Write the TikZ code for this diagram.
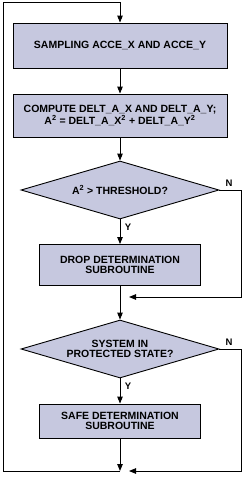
\documentclass[tikz,border=0pt]{standalone}
\usepackage{fontspec}
\setmainfont{Liberation Sans}
\usetikzlibrary{shapes.geometric,arrows.meta}
\definecolor{boxfill}{RGB}{198,200,223}
\begin{document}
\begin{tikzpicture}[x=1pt,y=-1pt,
  every node/.style={font=\fontsize{10.5}{10.6}\selectfont\bfseries},
  procbox/.style={draw=black,line width=0.9pt,fill=boxfill,align=center,inner sep=0pt},
  decision/.style={diamond,draw=black,line width=0.9pt,fill=boxfill,align=center,inner sep=0pt,shape aspect=3.41,minimum width=198pt,minimum height=58pt},
  flow/.style={line width=0.9pt,-{Triangle[length=7pt,width=5.5pt]}},
  lab/.style={font=\fontsize{9.5}{10}\selectfont\bfseries,inner sep=0pt}]
\useasboundingbox (0,0) rectangle (243,477);

\node[procbox,minimum width=214pt,minimum height=45pt] (b1) at (120,45.5) {SAMPLING ACCE\_X AND ACCE\_Y};
\node[procbox,minimum width=214pt,minimum height=43pt] (b2) at (120,115.5) {COMPUTE DELT\_A\_X AND DELT\_A\_Y;\\A\textsuperscript{2} = DELT\_A\_X\textsuperscript{2} + DELT\_A\_Y\textsuperscript{2}};
\node[decision] (d1) at (120,190) {A\textsuperscript{2} > THRESHOLD?};
\node[procbox,minimum width=161pt,minimum height=41pt] (b3) at (120,265) {DROP DETERMINATION\\SUBROUTINE};
\node[decision] (d2) at (120,349) {SYSTEM IN\\PROTECTED STATE?};
\node[procbox,minimum width=161pt,minimum height=34pt] (b4) at (120,421) {SAFE DETERMINATION\\SUBROUTINE};

\node[lab] (n1) at (229,183) {N};
\node[lab] (y1) at (128,227) {Y};
\node[lab] (n2) at (229,342) {N};
\node[lab] (y2) at (128,386) {Y};

\coordinate (xr) at (241,0);
\coordinate (m1end) at (129,297);
\coordinate (botend) at (129,471);
\coordinate (bot) at (120,471);
\coordinate (ll) at (3,471);
\coordinate (tl) at (3,2);
\coordinate (tc) at (120,2);

\draw[flow] (b1.south) -- (b2.north);
\draw[flow] (b2.south) -- (d1.north);
\draw[flow] (d1.south) -- (b3.north);
\draw[flow] (b3.south) -- (d2.north);
\draw[flow] (d2.south) -- (b4.north);
\draw[flow] (b4.south) -- (bot);
\draw[flow] (d1.east) -| (xr |- m1end) -- (m1end);
\draw[flow] (d2.east) -| (xr |- botend) -- (botend);
\draw[flow] (bot) -- (ll) -- (tl) -- (tc) -- (b1.north);
\end{tikzpicture}
\end{document}
